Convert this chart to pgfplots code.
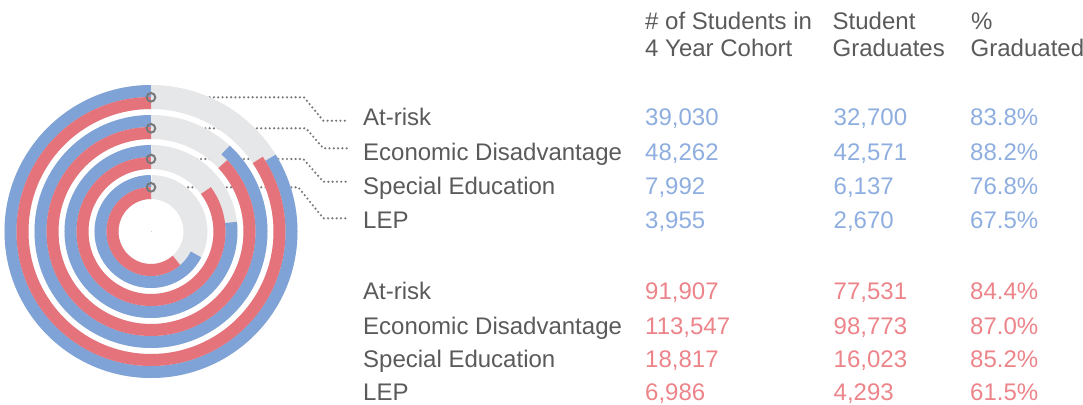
\documentclass[border=0pt]{standalone}
\usepackage{pgfplots}
\pgfplotsset{compat=1.18}
\usepackage{pgfplotstable}
\usepackage{fontspec}
\setmainfont{Liberation Sans}
\definecolor{ringblue}{HTML}{7FA3D6}
\definecolor{ringred}{HTML}{E5737B}
\definecolor{ringgray}{HTML}{E6E7E8}
\definecolor{txtblue}{HTML}{8EAEE0}
\definecolor{txtred}{HTML}{EC848A}
\definecolor{txtgray}{HTML}{5A5A5A}
\definecolor{dotgray}{HTML}{787878}

% rings: centre (x,y) in pixels, ring centre-line radius r, width w, percent p
\pgfplotstableread{
x y r w p
151 231.5 134.5 24 100
151 231.5 104.5 24 100
151 231.5 74.5 24 100
151 231.5 44.5 24 100
}\bgrings
\pgfplotstableread{
x y r w p
151 231.5 140.5 12 83.8
151 231.5 110.5 12 88.2
151 231.5 80.5 12 76.8
151 231.5 50.5 12 67.5
}\bluerings
\pgfplotstableread{
x y r w p
151 231.5 128.5 12 84.4
151 231.5 98.5 12 87.0
151 231.5 68.5 12 85.2
151 231.5 38.5 12 61.5
}\redrings

\pgfplotsset{ring/.style={scatter, only marks, mark=*, mark size=0pt,
 mark options={draw=none, fill=none},
 visualization depends on={\thisrow{r}\as\rr},
 visualization depends on={\thisrow{w}\as\ww},
 visualization depends on={\thisrow{p}\as\pp},
 scatter/@pre marker code/.code={\draw[line width=\ww pt, draw=#1, line cap=butt] (90:\rr pt) arc[start angle=90, delta angle=3.6*\pp, radius=\rr pt];},
 scatter/@post marker code/.code={}},
 leader/.style={dotgray, line width=2.4pt, line cap=round, dash pattern=on 0pt off 4.3pt}}

\newcommand{\lbl}[4]{\node[anchor=base west, inner sep=0pt, text=#3, font=\fontsize{24}{28}\selectfont] at (axis cs:#1,#2) {#4};}

\begin{document}
\begin{tikzpicture}
\begin{axis}[width=1083pt, height=404pt, scale only axis,
  xmin=0, xmax=1083, ymin=0, ymax=404, y dir=reverse,
  hide axis, clip=false]
\addplot[ring=ringgray] table[x=x, y=y] {\bgrings};
\addplot[ring=ringblue] table[x=x, y=y] {\bluerings};
\addplot[ring=ringred] table[x=x, y=y] {\redrings};

% leader lines
\addplot[leader] coordinates {(158,97.3)(304,97.3)(323.3,120.7)(347,120.7)};
\addplot[leader] coordinates {(158,128.3)(306,128.3)(323.3,148.3)(347,148.3)};
\addplot[leader] coordinates {(158,159)(303.3,159)(323.3,181.7)(347,181.7)};
\addplot[leader] coordinates {(158,187.3)(298.3,187.3)(323.3,218.3)(347,218.3)};
% circle markers
\addplot[only marks, mark=o, mark size=4.3pt, mark options={draw=dotgray, line width=2pt}] coordinates {(151,97.3)(151,128.3)(151,159)(151,187.3)};

% headers
\lbl{645}{29.9}{txtgray}{\# of Students in}
\lbl{645}{56.9}{txtgray}{4 Year Cohort}
\lbl{832.5}{29.9}{txtgray}{Student}
\lbl{832.5}{56.9}{txtgray}{Graduates}
\lbl{971}{29.9}{txtgray}{\%}
\lbl{970.5}{56.9}{txtgray}{Graduated}

% blue rows
\lbl{363}{125.6}{txtgray}{At-risk}
\lbl{363}{160.1}{txtgray}{Economic Disadvantage}
\lbl{363}{194.6}{txtgray}{Special Education}
\lbl{363}{228.9}{txtgray}{LEP}
\lbl{645}{125.6}{txtblue}{39,030}
\lbl{645}{160.1}{txtblue}{48,262}
\lbl{645}{194.6}{txtblue}{7,992}
\lbl{645}{228.9}{txtblue}{3,955}
\lbl{833.5}{125.6}{txtblue}{32,700}
\lbl{833.5}{160.1}{txtblue}{42,571}
\lbl{833.5}{194.6}{txtblue}{6,137}
\lbl{833.5}{228.9}{txtblue}{2,670}
\lbl{970}{125.6}{txtblue}{83.8\%}
\lbl{970}{160.1}{txtblue}{88.2\%}
\lbl{970}{194.6}{txtblue}{76.8\%}
\lbl{970}{228.9}{txtblue}{67.5\%}

% red rows
\lbl{363}{299.9}{txtgray}{At-risk}
\lbl{363}{334.1}{txtgray}{Economic Disadvantage}
\lbl{363}{367.6}{txtgray}{Special Education}
\lbl{363}{400.8}{txtgray}{LEP}
\lbl{645}{299.9}{txtred}{91,907}
\lbl{645}{334.1}{txtred}{113,547}
\lbl{645}{367.6}{txtred}{18,817}
\lbl{645}{400.8}{txtred}{6,986}
\lbl{833.5}{299.9}{txtred}{77,531}
\lbl{833.5}{334.1}{txtred}{98,773}
\lbl{833.5}{367.6}{txtred}{16,023}
\lbl{833.5}{400.8}{txtred}{4,293}
\lbl{970}{299.9}{txtred}{84.4\%}
\lbl{970}{334.1}{txtred}{87.0\%}
\lbl{970}{367.6}{txtred}{85.2\%}
\lbl{970}{400.8}{txtred}{61.5\%}
\end{axis}
\pgfresetboundingbox
\useasboundingbox (current axis.south west) rectangle (current axis.north east);
\end{tikzpicture}
\end{document}
